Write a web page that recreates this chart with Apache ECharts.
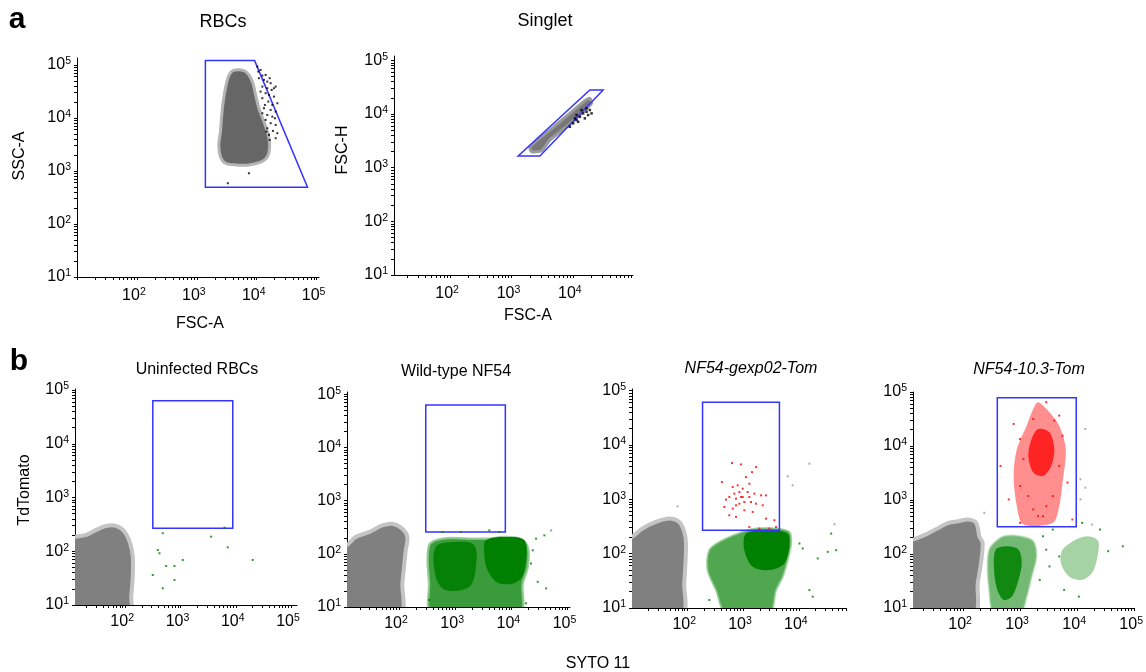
<!DOCTYPE html>
<html>
<head>
<meta charset="utf-8">
<script src="https://cdn.jsdelivr.net/npm/echarts@6/dist/echarts.min.js"></script>
<style>
html, body { margin: 0; padding: 0; background: #fff; }
#chart { width: 1146px; height: 672px; }
</style>
</head>
<body>
<div id="chart"></div>
<script>
// tick labels (decades)
var xTickLabels = [100, 1000, 10000, 100000];
var yTickLabels = [10, 100, 1000, 10000, 100000];
var decades = [10, 100, 1000, 10000, 100000];

// gates, real values
var rbcGate = [[1390, 120500], [9230, 120500], [70500, 493], [1390, 493]];
var singletGate = [[1285, 1644], [2904, 1644], [31100, 27900], [18900, 27900]];
var gateUninf = [[316, 268], [8830, 63000]];
var gateWt = [[299, 256], [7820, 62200]];
var gateGexp = [[188, 270], [4490, 61000]];
var gateTen = [[398, 318], [9640, 78000]];

// clouds / events in decades (log10)
var rbcCloudLog = [[3.647, 4.905], [3.786, 4.892], [3.870, 4.811], [3.937, 4.655], [3.982, 4.434], [4.037, 4.183],
  [4.121, 3.931], [4.194, 3.680], [4.216, 3.459], [4.178, 3.269], [4.065, 3.165], [3.870, 3.113], [3.647, 3.113],
  [3.479, 3.145], [3.395, 3.269], [3.367, 3.491], [3.395, 3.741], [3.412, 3.994], [3.434, 4.245], [3.467, 4.496],
  [3.518, 4.749], [3.580, 4.874]];
var rbcDoubletLog = [[4.010, 4.968], [4.065, 4.905], [4.149, 4.811], [4.121, 4.717], [4.177, 4.685], [4.233, 4.655],
  [4.094, 4.591], [4.177, 4.560], [4.250, 4.528], [4.149, 4.466], [4.205, 4.434], [4.288, 4.402], [4.094, 4.372],
  [4.194, 4.308], [4.261, 4.245], [4.121, 4.183], [4.233, 4.151], [4.317, 4.119], [4.177, 4.056], [4.261, 4.024],
  [4.149, 3.963], [4.233, 3.900], [4.317, 3.868], [4.177, 3.805], [4.271, 3.755], [4.345, 3.712], [4.205, 3.680],
  [4.037, 4.749], [4.288, 4.560], [3.870, 2.957], [3.518, 2.768], [4.027, 4.874], [4.094, 4.798], [4.216, 4.749],
  [4.317, 4.591], [4.065, 4.496], [4.345, 4.277], [4.137, 4.245], [4.305, 3.994], [4.094, 4.088], [4.216, 3.585],
  [4.317, 3.617], [4.161, 3.742]];
var singletCloudLog = [[3.300, 3.389], [3.625, 3.700], [3.951, 4.011], [4.195, 4.246], [4.277, 4.291], [4.305, 4.197],
  [4.142, 4.011], [3.897, 3.762], [3.625, 3.514], [3.490, 3.315], [3.327, 3.296]];
var singletDoubletLog = [[4.060, 3.886], [4.114, 3.948], [4.168, 4.011], [4.223, 4.041], [4.277, 4.073], [4.005, 3.825],
  [4.086, 3.855], [4.195, 3.918], [4.249, 3.980], [4.305, 4.011], [4.142, 4.073], [4.060, 3.980], [3.951, 3.762],
  [4.033, 3.918], [4.223, 4.104]];

var uninfRbcLog = [[0.9, 2.272], [1.101, 2.272], [1.295, 2.304], [1.476, 2.397], [1.656, 2.471], [1.837, 2.471],
  [1.987, 2.365], [2.090, 2.149], [2.137, 1.899], [2.137, 1.527], [2.108, 1.155], [2.09, 0.9], [0.9, 0.9]];
var uninfGreenLog = [[2.680, 2.335], [2.590, 2.024], [2.620, 1.963], [2.741, 1.726], [2.891, 1.726], [3.042, 1.838],
  [2.499, 1.559], [2.891, 1.466], [2.680, 1.311], [3.555, 2.272], [3.855, 2.074], [3.796, 2.439], [4.307, 1.838]];

var wtRbcLog = [[0.9, 2.159], [1.059, 2.159], [1.227, 2.314], [1.464, 2.408], [1.702, 2.533], [1.881, 2.564],
  [2.059, 2.471], [2.149, 2.314], [2.119, 2.065], [2.089, 1.753], [2.059, 1.443], [2.030, 0.9], [0.9, 0.9]];
var wtGreenLog = [[2.536, 2.159], [2.774, 2.284], [3.250, 2.284], [3.607, 2.284], [3.845, 2.314], [4.143, 2.284],
  [4.292, 2.127], [4.292, 1.753], [4.202, 1.443], [4.143, 0.9], [2.595, 0.9], [2.536, 1.443]];
var wtGreenLeftLog = [[2.655, 2.127], [3.012, 2.221], [3.339, 2.159], [3.369, 1.753], [3.250, 1.379], [2.834, 1.318],
  [2.655, 1.566]];
var wtGreenRightLog = [[3.548, 2.252], [3.905, 2.314], [4.232, 2.252], [4.262, 1.879], [4.143, 1.505], [3.786, 1.442],
  [3.577, 1.692], [3.518, 2.003]];
var wtGreenDotsLog = [[4.441, 2.284], [4.589, 2.346], [4.620, 1.350], [4.470, 1.473], [2.774, 2.408], [3.607, 2.439],
  [3.786, 2.408], [3.101, 2.408], [4.351, 1.817], [4.381, 2.065], [2.536, 1.131], [4.262, 1.069]];
var wtGrayDotsLog = [[4.709, 2.439]];

var gexpRbcLog = [[0.9, 2.308], [1.0, 2.308], [1.198, 2.462], [1.438, 2.583], [1.677, 2.646], [1.856, 2.583],
  [1.946, 2.400], [1.977, 2.187], [1.964, 1.758], [1.946, 1.453], [1.916, 0.9], [0.9, 0.9]];
var gexpGreenLog = [[2.395, 2.064], [2.634, 2.248], [2.993, 2.400], [3.233, 2.462], [3.592, 2.462], [3.831, 2.400],
  [3.862, 2.187], [3.801, 1.881], [3.711, 1.574], [3.592, 1.330], [3.472, 0.9], [2.695, 0.9], [2.515, 1.330],
  [2.365, 1.697]];
var gexpGreenCoreLog = [[3.053, 2.370], [3.472, 2.431], [3.801, 2.370], [3.831, 2.125], [3.741, 1.820], [3.472, 1.697],
  [3.173, 1.758], [3.023, 2.064]];
var gexpGreenDotsLog = [[4.070, 2.095], [4.339, 1.912], [4.519, 2.033], [4.670, 2.064], [4.580, 2.370], [4.190, 1.330],
  [4.250, 1.208], [4.011, 2.187], [2.395, 1.147]];
var gexpGrayDotsLog = [[4.190, 3.655], [3.801, 3.422], [3.890, 3.257], [1.826, 2.872], [4.639, 2.541]];
var gexpRedLog = [[2.802, 3.667], [2.964, 3.642], [3.233, 3.593], [3.161, 3.501], [3.053, 3.409], [2.622, 3.318],
  [2.814, 3.226], [2.904, 3.257], [2.994, 3.196], [3.113, 3.287], [3.083, 3.135], [3.203, 3.104], [3.323, 3.073],
  [2.844, 3.104], [2.754, 3.043], [2.874, 3.012], [2.994, 3.043], [2.694, 2.994], [2.934, 2.920], [3.143, 2.951],
  [3.412, 3.073], [3.353, 2.890], [2.664, 2.859], [2.814, 2.829], [3.023, 2.798], [3.173, 2.768], [2.754, 2.706],
  [2.874, 2.676], [3.412, 2.645], [3.562, 2.615], [3.113, 2.492], [3.293, 2.462], [3.472, 2.462], [3.592, 2.492],
  [2.964, 3.043], [3.023, 2.951], [2.934, 3.135], [3.113, 3.043], [3.233, 2.920], [2.874, 2.890]];

var tenRbcLog = [[0.9, 2.266], [1.114, 2.266], [1.343, 2.359], [1.514, 2.453], [1.743, 2.577], [1.914, 2.607],
  [2.086, 2.639], [2.229, 2.577], [2.286, 2.328], [2.343, 2.205], [2.314, 1.832], [2.257, 1.460], [2.200, 0.9], [0.9, 0.9]];
var tenGreenLog = [[2.543, 2.205], [2.715, 2.328], [3.000, 2.328], [3.230, 2.235], [3.286, 1.955], [3.201, 1.583],
  [3.115, 1.211], [3.000, 0.9], [2.543, 0.9], [2.458, 1.335], [2.429, 1.770], [2.458, 2.080]];
var tenGreenCoreLog = [[2.571, 2.080], [2.772, 2.142], [2.973, 2.080], [3.029, 1.832], [2.973, 1.521], [2.858, 1.211],
  [2.715, 1.149], [2.600, 1.335], [2.543, 1.708]];
var tenGreenHighLog = [[3.744, 2.080], [3.973, 2.266], [4.201, 2.328], [4.372, 2.235], [4.345, 1.894], [4.259, 1.646],
  [4.087, 1.521], [3.858, 1.583], [3.715, 1.832]];
var tenGreenDotsLog = [[3.401, 2.328], [3.458, 2.080], [3.515, 1.770], [3.344, 1.521], [3.686, 1.955], [4.030, 1.211],
  [4.544, 2.052], [4.801, 2.142], [4.401, 2.453], [3.772, 1.335], [3.573, 2.453], [4.087, 2.577]];
var tenRedLog = [[3.315, 4.811], [3.515, 4.626], [3.686, 4.376], [3.801, 3.942], [3.744, 3.322], [3.686, 2.886],
  [3.573, 2.577], [3.058, 2.546], [2.943, 2.886], [2.887, 3.445], [2.943, 3.942], [3.115, 4.376], [3.230, 4.687]];
var tenRedCoreLog = [[3.315, 4.315], [3.515, 4.253], [3.600, 3.942], [3.544, 3.631], [3.401, 3.445], [3.230, 3.508],
  [3.144, 3.818], [3.201, 4.128]];
var tenRedDotsLog = [[3.458, 4.811], [2.887, 4.408], [2.657, 3.631], [2.801, 3.011], [3.830, 3.322], [3.916, 2.639],
  [3.000, 2.577], [3.686, 4.563], [3.401, 2.701], [3.230, 4.501], [3.600, 4.469], [3.000, 4.128], [3.744, 4.190],
  [3.058, 3.756], [3.686, 3.631], [3.000, 3.259], [3.573, 3.073], [3.230, 2.825], [3.458, 2.886], [3.315, 2.701],
  [3.144, 3.073]];
var tenGrayDotsLog = [[4.144, 4.315], [4.144, 3.229], [4.058, 3.384], [4.058, 3.011], [4.259, 2.546], [2.372, 2.763]];

var FONT = '"Liberation Sans", Arial, sans-serif';
var BLUE = '#3434ff';
var GREEN = '#008000';

function pow10(list) {
  return list.map(function (p) { return [Math.pow(10, p[0]), Math.pow(10, p[1])]; });
}
function rectGate(g) {
  return [[g[0][0], g[0][1]], [g[1][0], g[0][1]], [g[1][0], g[1][1]], [g[0][0], g[1][1]]];
}

var minorTicks = [];
decades.forEach(function (d) {
  for (var k = 1; k <= 9; k++) minorTicks.push(d * k);
});

function supLabel(v) {
  var e = Math.round(Math.log(v) / Math.LN10);
  return '{b|10}{s|' + e + '}';
}
var richLabel = {
  b: { fontSize: 16, fontFamily: FONT, color: '#000', lineHeight: 18 },
  s: { fontSize: 10.5, fontFamily: FONT, color: '#000', lineHeight: 11, verticalAlign: 'top' }
};

function logAxis(idx, lo, hi, isY, margin) {
  return {
    type: 'log', logBase: 10, gridIndex: idx,
    min: Math.pow(10, lo), max: Math.pow(10, hi),
    axisLine: { show: true, onZero: false, lineStyle: { color: '#000', width: 1 } },
    axisTick: { show: true, length: 3, customValues: minorTicks, lineStyle: { color: '#000', width: 1 } },
    splitLine: { show: false },
    minorTick: { show: false },
    axisLabel: {
      show: true, customValues: isY ? yTickLabels : xTickLabels,
      formatter: supLabel, rich: richLabel, margin: margin,
      padding: isY ? 0 : [0, 6, 0, 0]
    }
  };
}

function polygon(idx, pts, style, smooth) {
  return {
    type: 'custom', xAxisIndex: idx, yAxisIndex: idx, clip: true, silent: true,
    data: pts,
    renderItem: function (params, api) {
      if (params.context.rendered) return;
      params.context.rendered = true;
      return {
        type: 'polygon',
        shape: { points: pts.map(function (p) { return api.coord(p); }), smooth: smooth || 0 },
        style: style
      };
    }
  };
}
function dots(idx, pts, color, size) {
  return {
    type: 'scatter', xAxisIndex: idx, yAxisIndex: idx, silent: true,
    symbol: 'rect', symbolSize: size || 2, data: pts,
    itemStyle: { color: color }
  };
}
function gate(idx, pts) {
  return polygon(idx, pts, { fill: 'none', stroke: BLUE, lineWidth: 1.5 });
}

var grids = [
  { left: 77, top: 58, width: 242, height: 219 },
  { left: 394, top: 56, width: 239, height: 219 },
  { left: 75, top: 389, width: 222, height: 216 },
  { left: 347, top: 392, width: 223, height: 215 },
  { left: 632, top: 389, width: 214, height: 219 },
  { left: 913, top: 392, width: 226, height: 216 }
];
var xRanges = [[1.0, 5.04], [1.085, 4.98], [1.092, 5.108], [1.073, 5.045], [1.009, 4.846], [1.122, 5.0]];
var yRanges = [[1, 5.13], [1, 5.08], [1, 5.02], [1, 5.04], [1, 5.03], [1, 5.0]];

var xAxes = [], yAxes = [];
for (var i = 0; i < grids.length; i++) {
  xAxes.push(logAxis(i, xRanges[i][0], xRanges[i][1], false, i < 2 ? 10 : 8));
  yAxes.push(logAxis(i, yRanges[i][0], yRanges[i][1], true, 6));
}

var grayA = { fill: '#666666', stroke: '#b4b4b4', lineWidth: 3, lineJoin: 'round' };
var grayB = { fill: '#808080', stroke: '#c4c4c4', lineWidth: 4, lineJoin: 'round' };

var series = [
  // a: RBCs
  polygon(0, pow10(rbcCloudLog), grayA, 0.3),
  dots(0, pow10(rbcDoubletLog), '#000', 2),
  gate(0, rbcGate),
  // a: Singlet
  polygon(1, pow10(singletCloudLog), { fill: '#777777', stroke: '#9a9a9a', lineWidth: 3, lineJoin: 'round' }, 0.2),
  dots(1, pow10(singletDoubletLog), '#000', 2.5),
  gate(1, singletGate),
  // b: uninfected
  polygon(2, pow10(uninfRbcLog), grayB, 0.3),
  dots(2, pow10(uninfGreenLog), GREEN, 2),
  gate(2, rectGate(gateUninf)),
  // b: wild type
  polygon(3, pow10(wtRbcLog), grayB, 0.3),
  polygon(3, pow10(wtGreenLog), { fill: '#168a16', stroke: '#8cc88c', lineWidth: 2.5, opacity: 0.85, lineJoin: 'round' }, 0.35),
  polygon(3, pow10(wtGreenLeftLog), { fill: GREEN, opacity: 0.9 }, 0.35),
  polygon(3, pow10(wtGreenRightLog), { fill: GREEN }, 0.35),
  dots(3, pow10(wtGreenDotsLog), GREEN, 2),
  dots(3, pow10(wtGrayDotsLog), '#808080', 2),
  gate(3, rectGate(gateWt)),
  // b: gexp02
  polygon(4, pow10(gexpRbcLog), grayB, 0.3),
  polygon(4, pow10(gexpGreenLog), { fill: '#168a16', stroke: '#8cc88c', lineWidth: 2, opacity: 0.75, lineJoin: 'round' }, 0.3),
  polygon(4, pow10(gexpGreenCoreLog), { fill: GREEN }, 0.3),
  dots(4, pow10(gexpGreenDotsLog), GREEN, 2),
  dots(4, pow10(gexpGrayDotsLog), '#9a9a9a', 2),
  dots(4, pow10(gexpRedLog), '#ff0000', 2),
  gate(4, rectGate(gateGexp)),
  // b: 10.3
  polygon(5, pow10(tenRbcLog), grayB, 0.3),
  polygon(5, pow10(tenGreenLog), { fill: GREEN, stroke: '#9ccf9c', lineWidth: 2, opacity: 0.55, lineJoin: 'round' }, 0.3),
  polygon(5, pow10(tenGreenCoreLog), { fill: GREEN, opacity: 0.85 }, 0.3),
  polygon(5, pow10(tenGreenHighLog), { fill: GREEN, opacity: 0.35 }, 0.3),
  dots(5, pow10(tenGreenDotsLog), GREEN, 2),
  dots(5, pow10(tenGrayDotsLog), '#9a9a9a', 2),
  polygon(5, pow10(tenRedLog), { fill: '#ff2020', opacity: 0.5 }, 0.3),
  polygon(5, pow10(tenRedCoreLog), { fill: '#ff0000', opacity: 0.75 }, 0.3),
  dots(5, pow10(tenRedDotsLog), '#ff0000', 2),
  gate(5, rectGate(gateTen))
];

function label(text, x, y, size, opts) {
  opts = opts || {};
  return {
    type: 'text', x: x, y: y, rotation: opts.rotate ? Math.PI / 2 : 0, silent: true,
    style: {
      text: text, fill: '#000', fontSize: size, fontFamily: FONT,
      fontWeight: opts.bold ? 'bold' : 'normal', fontStyle: opts.italic ? 'italic' : 'normal',
      align: 'center', verticalAlign: 'middle', textAlign: 'center', textVerticalAlign: 'middle'
    }
  };
}

var chart = echarts.init(document.getElementById('chart'), null, { renderer: 'canvas' });
chart.setOption({
  backgroundColor: '#fff',
  animation: false,
  grid: grids,
  xAxis: xAxes,
  yAxis: yAxes,
  series: series,
  graphic: [
    label('a', 17, 20, 30, { bold: true }),
    label('b', 19, 362, 30, { bold: true }),
    label('RBCs', 223, 22, 18),
    label('Singlet', 545, 21, 18),
    label('SSC-A', 20, 156, 16, { rotate: true }),
    label('FSC-A', 200, 324, 16),
    label('FSC-H', 343, 150, 16, { rotate: true }),
    label('FSC-A', 528, 316, 16),
    label('Uninfected RBCs', 197, 370, 16),
    label('Wild-type NF54', 456, 372, 16),
    label('NF54-gexp02-Tom', 751, 368.5, 16, { italic: true }),
    label('NF54-10.3-Tom', 1029, 370, 16, { italic: true }),
    label('TdTomato', 25, 490, 16, { rotate: true }),
    label('SYTO 11', 598, 664, 16)
  ]
});
</script>
</body>
</html>
